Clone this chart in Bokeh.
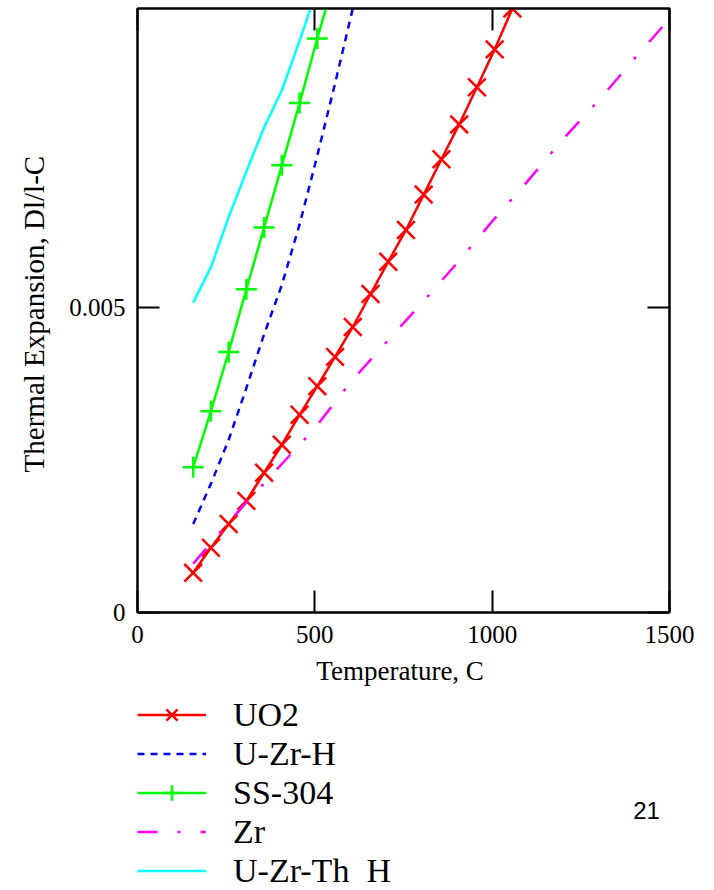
from bokeh.plotting import figure
from bokeh.layouts import column
from bokeh.models import (Range1d, LinearAxis, FixedTicker, CustomJSTickFormatter,
                          Legend, LegendItem, Label)
from bokeh.embed import file_html
from bokeh.resources import INLINE

# ---- data ----
temp = [157, 207, 257, 307, 357, 407, 457, 507, 557, 607,
        657, 707, 757, 807, 857, 907, 957, 1007, 1057]
uo2 = [0.00065, 0.00106, 0.00145, 0.00183, 0.00229, 0.00275, 0.00324, 0.00371,
       0.00419, 0.00468, 0.00522, 0.00575, 0.00627, 0.00685, 0.00743, 0.00800,
       0.00861, 0.00923, 0.00990]
temp_uzrh = temp[:10]
uzrh = [0.00145, 0.00211, 0.00283, 0.00368, 0.00456, 0.00537, 0.00636,
        0.00749, 0.00867, 0.00990]
temp_ss = temp[:9]
ss304 = [0.00238, 0.00330, 0.00427, 0.00530, 0.00631, 0.00733, 0.00835,
         0.00941, 0.01042]
temp_zr = [157, 300, 400, 500, 600, 700, 800, 900, 1000, 1100, 1200, 1300, 1400, 1500]
zr = [0.00080, 0.00176, 0.00239, 0.00302, 0.00377, 0.00442, 0.00506, 0.00572,
      0.00641, 0.00707, 0.00776, 0.00839, 0.00907, 0.00973]
temp_th = temp[:8]
uzrth = [0.00508, 0.00566, 0.00648, 0.00723, 0.00795, 0.00856, 0.00937, 0.01022]

series_names = ["UO2", "U-Zr-H", "SS-304", "Zr", "U-Zr-Th  H"]
x_ticks = [0, 500, 1000, 1500]
y_ticks = [0, 0.005]
x_title = "Temperature,  C"
y_title = "Thermal Expansion,  Dl/l-C"
page_no = "21"

SERIF = "Liberation Serif"
RED, BLUE, GREEN, MAGENTA, CYAN = "#FF0000", "#0000FF", "#00FF00", "#FF00FF", "#00FFFF"


def draw_series(fig):
    r = {}
    r["uo2_l"] = fig.line(temp, uo2, line_color=RED, line_width=2.5)
    r["uo2_m"] = fig.scatter(temp, uo2, marker="x", size=25, line_color=RED, line_width=2.5)
    r["uzrh"] = fig.line(temp_uzrh, uzrh, line_color=BLUE, line_width=2.5, line_dash="7 6")
    r["ss_l"] = fig.line(temp_ss, ss304, line_color=GREEN, line_width=2.5)
    r["ss_m"] = fig.scatter(temp_ss, ss304, marker="cross", size=21, line_color=GREEN,
                            line_width=2.5)
    r["zr"] = fig.line(temp_zr, zr, line_color=MAGENTA, line_width=2.5, line_dash="20 20 3 20")
    r["th"] = fig.line(temp_th, uzrth, line_color=CYAN, line_width=2.5)
    return r


# ---------------- main chart ----------------
p = figure(width=712, height=694, output_backend="svg", toolbar_location=None,
           x_range=Range1d(0, 1500), y_range=Range1d(0, 0.0099),
           min_border_left=137, min_border_top=8, min_border_right=43,
           min_border_bottom=82,
           background_fill_color="white", border_fill_color="white")
p.grid.visible = False
p.outline_line_color = "black"
p.outline_line_width = 2

fmt_y = CustomJSTickFormatter(code="return tick.toString();")
blank = CustomJSTickFormatter(code="return '';")

for ax in p.xaxis:
    ax.ticker = FixedTicker(ticks=x_ticks)
    ax.axis_label = x_title
for ax in p.yaxis:
    ax.ticker = FixedTicker(ticks=y_ticks)
    ax.formatter = fmt_y
    ax.axis_label = y_title

for ax in p.xaxis + p.yaxis:
    ax.major_tick_in = 22
    ax.major_tick_out = 0
    ax.minor_tick_line_color = None
    ax.major_tick_line_width = 2
    ax.axis_line_width = 2
    ax.major_label_text_font = SERIF
    ax.major_label_text_font_size = "25px"
    ax.major_label_text_color = "black"
    ax.axis_label_text_font = SERIF
    ax.axis_label_text_font_style = "normal"
    ax.axis_label_text_color = "black"
p.yaxis.axis_label_text_font_size = "29px"
p.xaxis.axis_label_text_font_size = "27px"
p.yaxis.major_label_standoff = 12
p.yaxis.axis_label_standoff = 16
p.xaxis.major_label_standoff = 13
p.xaxis.axis_label_standoff = 10

top = LinearAxis(ticker=FixedTicker(ticks=x_ticks), formatter=blank,
                 major_tick_in=22, major_tick_out=0, minor_tick_line_color=None,
                 major_tick_line_width=2, axis_line_width=2)
right = LinearAxis(ticker=FixedTicker(ticks=y_ticks), formatter=blank,
                   major_tick_in=22, major_tick_out=0, minor_tick_line_color=None,
                   major_tick_line_width=2, axis_line_width=2)
p.add_layout(top, "above")
p.add_layout(right, "right")

draw_series(p)

# ---------------- legend strip below the chart ----------------
q = figure(width=712, height=196, output_backend="svg", toolbar_location=None,
           x_range=Range1d(0, 1), y_range=Range1d(1, 2),
           x_axis_type=None, y_axis_type=None,
           min_border_left=0, min_border_right=0, min_border_top=0, min_border_bottom=0,
           background_fill_color="white", border_fill_color="white")
q.grid.visible = False
q.outline_line_color = None

rq = draw_series(q)  # same series; out of this strip's range, used only as legend keys

legend = Legend(items=[
    LegendItem(label=series_names[0], renderers=[rq["uo2_l"], rq["uo2_m"]]),
    LegendItem(label=series_names[1], renderers=[rq["uzrh"]]),
    LegendItem(label=series_names[2], renderers=[rq["ss_l"], rq["ss_m"]]),
    LegendItem(label=series_names[3], renderers=[rq["zr"]]),
    LegendItem(label=series_names[4], renderers=[rq["th"]]),
], location=(0, 0), orientation="vertical", glyph_width=69, glyph_height=39,
    label_height=39, label_standoff=27, spacing=0, padding=0, margin=0,
    border_line_color=None, background_fill_alpha=0,
    label_text_font=SERIF, label_text_font_size="34px", label_text_color="black")
q.add_layout(legend)

q.add_layout(Label(x=509, y=80, x_units="screen", y_units="screen", text=page_no,
                   text_font="Liberation Sans", text_font_size="24px",
                   text_align="center", text_baseline="middle", text_color="black"))

layout = column(p, q, spacing=0)
open("out.html", "w").write(file_html(layout, INLINE))
